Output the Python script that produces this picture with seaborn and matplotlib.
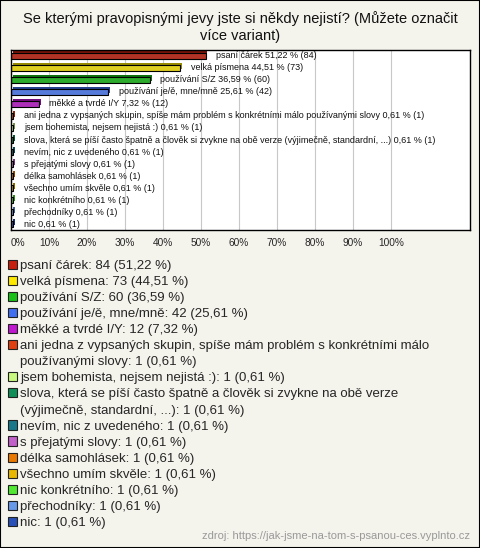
import matplotlib
matplotlib.use('Agg')
import matplotlib.pyplot as plt
import matplotlib.patheffects as pe
from matplotlib.patches import Patch, Rectangle
from matplotlib.colors import to_rgb
import pandas as pd
import seaborn as sns

answers = [
    'psaní čárek',
    'velká písmena',
    'používání S/Z',
    'používání je/ě, mne/mně',
    'měkké a tvrdé I/Y',
    'ani jedna z vypsaných skupin, spíše mám problém s konkrétními málo používanými slovy',
    'jsem bohemista, nejsem nejistá :)',
    'slova, která se píší často špatně a člověk si zvykne na obě verze (výjimečně, standardní, ...)',
    'nevím, nic z uvedeného',
    's přejatými slovy',
    'délka samohlásek',
    'všechno umím skvěle',
    'nic konkrétního',
    'přechodníky',
    'nic',
]
counts = [84, 73, 60, 42, 12, 1, 1, 1, 1, 1, 1, 1, 1, 1, 1]
percents = [51.22, 44.51, 36.59, 25.61, 7.32, 0.61, 0.61, 0.61, 0.61, 0.61, 0.61, 0.61, 0.61, 0.61, 0.61]
colors = ['#c8200e', '#ffe800', '#18c018', '#4070f0', '#c018d0', '#e04010', '#c8f880',
          '#109058', '#18788a', '#c060c8', '#e87800', '#e8b800', '#50e830', '#6898e8', '#2850b8']
# legend labels wrapped like in the source
legend_lines = [
    ['psaní čárek: 84 (51,22 %)'],
    ['velká písmena: 73 (44,51 %)'],
    ['používání S/Z: 60 (36,59 %)'],
    ['používání je/ě, mne/mně: 42 (25,61 %)'],
    ['měkké a tvrdé I/Y: 12 (7,32 %)'],
    ['ani jedna z vypsaných skupin, spíše mám problém s konkrétními málo',
     'používanými slovy: 1 (0,61 %)'],
    ['jsem bohemista, nejsem nejistá :): 1 (0,61 %)'],
    ['slova, která se píší často špatně a člověk si zvykne na obě verze',
     '(výjimečně, standardní, ...): 1 (0,61 %)'],
    ['nevím, nic z uvedeného: 1 (0,61 %)'],
    ['s přejatými slovy: 1 (0,61 %)'],
    ['délka samohlásek: 1 (0,61 %)'],
    ['všechno umím skvěle: 1 (0,61 %)'],
    ['nic konkrétního: 1 (0,61 %)'],
    ['přechodníky: 1 (0,61 %)'],
    ['nic: 1 (0,61 %)'],
]

df = pd.DataFrame({'answer': answers, 'pct': percents, 'count': counts})

bg = '#f4f3ec'
sns.set_style('white')
plt.rcParams['font.family'] = ['Liberation Sans', 'DejaVu Sans']

fig = plt.figure(figsize=(4.8, 5.48), dpi=100, facecolor=bg)
fig.add_artist(Rectangle((0, 0), 1, 1, transform=fig.transFigure, fill=False,
                         edgecolor='black', linewidth=1.5))
ax = fig.add_axes([0.023, 0.58, 0.956, 0.329])

sns.barplot(data=df, x='pct', y='answer', hue='answer', palette=colors, dodge=False,
            legend=False, orient='h', width=0.5, edgecolor='black', linewidth=0.8, ax=ax)

# fake 3D look: darker shadow behind each bar
for patch, c in zip(ax.patches, colors):
    dark = tuple(v * 0.6 for v in to_rgb(c))
    patch.set_path_effects([pe.SimplePatchShadow(offset=(1.3, 1.3), shadow_rgbFace=dark, alpha=1),
                            pe.Normal()])

for i, row in df.iterrows():
    txt = f"{row['answer']} {row['pct']:.2f} % ({row['count']})".replace('.', ',')
    if row['answer'].endswith('...)'):
        txt = f"{row['answer']} 0,61 % (1)"
    ax.annotate(txt, (row['pct'], i), xytext=(7.5, 0), textcoords='offset points',
                va='center', ha='left', fontsize=6.5, color='#111111')

ax.set_xlim(0, 120.8)
ax.set_xticks(range(0, 101, 10))
ax.set_xticklabels([f'{t}%' for t in range(0, 101, 10)], fontsize=7.3)
ax.get_xticklabels()[0].set_ha('left')
ax.set_yticks([])
ax.set_xlabel('')
ax.set_ylabel('')
ax.grid(axis='x', color='#c8c8c8', linewidth=0.8)
ax.set_axisbelow(True)
ax.tick_params(axis='x', length=0, pad=6)
ax.set_facecolor('white')
for s in ax.spines.values():
    s.set_color('black')
    s.set_linewidth(1.0)

fig.text(0.5, 0.951, 'Se kterými pravopisnými jevy jste si někdy nejistí? (Můžete označit\nvíce variant)',
         ha='center', va='center', fontsize=10.5, linespacing=1.25, color='#111111')

handles, labels = [], []
for lines, c in zip(legend_lines, colors):
    for k, line in enumerate(lines):
        if k == 0:
            handles.append(Patch(facecolor=c, edgecolor='#222222', linewidth=0.8))
        else:
            handles.append(Patch(facecolor='none', edgecolor='none'))
        labels.append(line)
fig.legend(handles, labels, loc='upper left', bbox_to_anchor=(0.017, 0.526), frameon=False,
           fontsize=9.5, handlelength=0.7, handleheight=0.7, handletextpad=0.22,
           labelspacing=0.29, borderaxespad=0, borderpad=0)

fig.text(0.979, 0.022, 'zdroj: https://jak-jsme-na-tom-s-psanou-ces.vyplnto.cz', ha='right',
         va='center', fontsize=8, color='#999999')

fig.savefig('out.png', dpi=100, facecolor=bg)
